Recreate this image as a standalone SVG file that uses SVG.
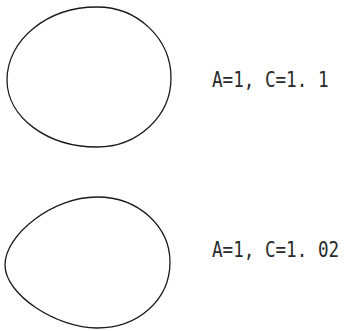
<svg xmlns="http://www.w3.org/2000/svg" width="348" height="331" viewBox="0 0 348 331">
<style>
.curve{fill:none;stroke:#1a1a1a;stroke-width:1.3;stroke-linejoin:round}
.lbl{font-family:"DejaVu Sans Mono","Liberation Mono",monospace;font-size:22px;fill:#2a2a2a}
</style>
<rect width="348" height="331" fill="#ffffff"/>
<g id="curve-c11">
<path class="curve" d="M97,7 C138,7 171,39 171,78 C171,116 138,147 97,147 C47,147 7,117 7,80 C7,40 47,7 97,7 Z"/>
</g>
<g id="label-c11">
<text class="lbl" transform="translate(212,87) scale(0.8,1)" x="0" y="0">A=1, C=1. 1</text>
</g>
<g id="curve-c102">
<path class="curve" d="M97,197 C140,197 170,228 170,262 C170,300 138,328 97,328 C57,328 5,295 5,265 C5,235 52,197 97,197 Z"/>
</g>
<g id="label-c102">
<text class="lbl" transform="translate(212,257) scale(0.8,1)" x="0" y="0">A=1, C=1. 02</text>
</g>
<g id="connectors"></g>
</svg>
